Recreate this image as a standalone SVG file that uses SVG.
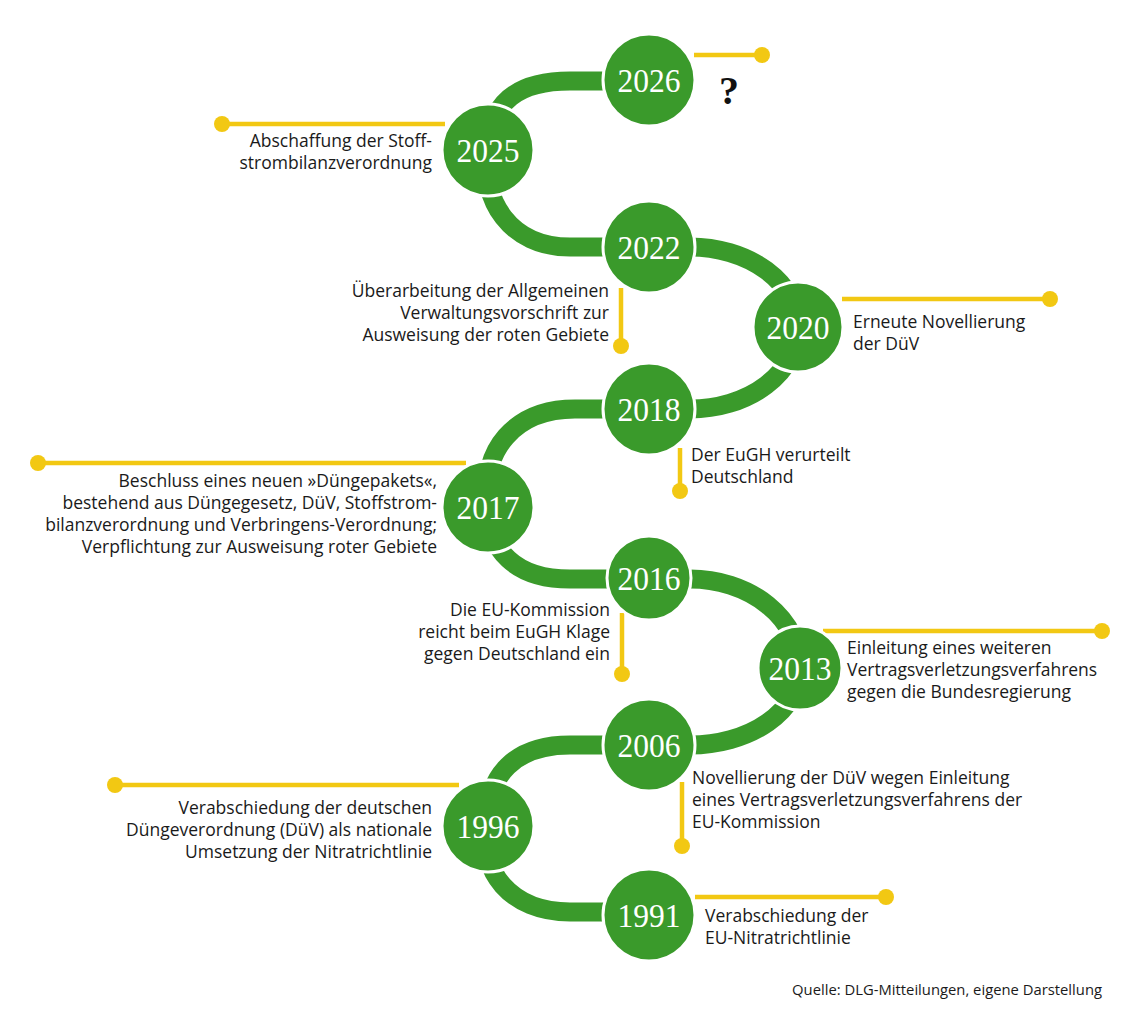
<svg xmlns="http://www.w3.org/2000/svg" width="1140" height="1027" viewBox="0 0 1140 1027">
<defs>
<style>
.track{fill:none;stroke:#3a9a2b;stroke-width:19}
.yl{stroke:#f2c813;stroke-width:4.5;fill:none}
.dot{fill:#f2c813}
.node{fill:#3a9a2b;stroke:#fff;stroke-width:3}
.year{font-family:"Liberation Serif",serif;font-size:34px;fill:#fff;text-anchor:middle}
.lbl{font-family:"Open Sans","Liberation Sans",sans-serif;font-size:17.5px;fill:#1a1a1a}
.r{text-anchor:end}
.q{font-family:"Liberation Serif",serif;font-size:40px;font-weight:bold;fill:#111}
.src{font-family:"Open Sans","Liberation Sans",sans-serif;font-size:14.8px;fill:#1a1a1a;text-anchor:end}
</style>
</defs>
<rect width="1140" height="1027" fill="#fff"/>
<g id="connectors">
<path class="track" d="M649 81 L570 81 C520 81 490 100 488 150 C480 200 510 247 570 247 L690 247 A108 80 0 0 1 798 327 A108 82 0 0 1 690 409 L575 409 C515 409 480 450 488 507 C488 550 515 579 570 579 L690 579 A110 89 0 0 1 800 668 A110 77 0 0 1 690 745 L570 745 C515 745 486 775 488 825 C478 870 510 912 570 912 L649 912"/>
<g id="leaders">
<line class="yl" x1="694" y1="55" x2="762" y2="55"/><circle class="dot" cx="762" cy="55" r="8"/>
<line class="yl" x1="222" y1="124" x2="445" y2="124"/><circle class="dot" cx="222" cy="124" r="8"/>
<line class="yl" x1="621" y1="288" x2="621" y2="346"/><circle class="dot" cx="621" cy="346" r="8"/>
<line class="yl" x1="842" y1="299" x2="1050" y2="299"/><circle class="dot" cx="1050" cy="299" r="8"/>
<line class="yl" x1="680" y1="448" x2="680" y2="491"/><circle class="dot" cx="680" cy="491" r="8"/>
<line class="yl" x1="38" y1="463" x2="466" y2="463"/><circle class="dot" cx="38" cy="463" r="8"/>
<line class="yl" x1="622" y1="613" x2="622" y2="674"/><circle class="dot" cx="622" cy="674" r="8"/>
<line class="yl" x1="823" y1="631" x2="1102" y2="631"/><circle class="dot" cx="1102" cy="631" r="8"/>
<line class="yl" x1="682" y1="782" x2="682" y2="846"/><circle class="dot" cx="682" cy="846" r="8"/>
<line class="yl" x1="115" y1="785" x2="459" y2="785"/><circle class="dot" cx="115" cy="785" r="8"/>
<line class="yl" x1="695" y1="897" x2="886" y2="897"/><circle class="dot" cx="886" cy="897" r="8"/>
</g>
</g>
<g id="n2026"><circle class="node" cx="649" cy="80" r="46"/><text class="year" x="649" y="92" textLength="63" lengthAdjust="spacingAndGlyphs">2026</text><text class="q" x="719" y="104">?</text></g>
<g id="n2025"><circle class="node" cx="488" cy="150" r="46"/><text class="year" x="488" y="162" textLength="63" lengthAdjust="spacingAndGlyphs">2025</text>
<text class="lbl r" x="432" y="147">Abschaffung der Stoff-</text><text class="lbl r" x="432" y="169">strombilanzverordnung</text></g>
<g id="n2022"><circle class="node" cx="649" cy="247" r="46"/><text class="year" x="649" y="259" textLength="63" lengthAdjust="spacingAndGlyphs">2022</text>
<text class="lbl r" x="609" y="297">Überarbeitung der Allgemeinen</text><text class="lbl r" x="609" y="319">Verwaltungsvorschrift zur</text><text class="lbl r" x="609" y="341">Ausweisung der roten Gebiete</text></g>
<g id="n2020"><circle class="node" cx="798" cy="327" r="45"/><text class="year" x="798" y="339" textLength="63" lengthAdjust="spacingAndGlyphs">2020</text>
<text class="lbl" x="853" y="328">Erneute Novellierung</text><text class="lbl" x="853" y="350">der DüV</text></g>
<g id="n2018"><circle class="node" cx="649" cy="409" r="46"/><text class="year" x="649" y="421" textLength="63" lengthAdjust="spacingAndGlyphs">2018</text>
<text class="lbl" x="691" y="461">Der EuGH verurteilt</text><text class="lbl" x="691" y="483">Deutschland</text></g>
<g id="n2017"><circle class="node" cx="488" cy="507" r="46"/><text class="year" x="488" y="519" textLength="63" lengthAdjust="spacingAndGlyphs">2017</text>
<text class="lbl r" x="437" y="487">Beschluss eines neuen »Düngepakets«,</text><text class="lbl r" x="437" y="509">bestehend aus Düngegesetz, DüV, Stoffstrom-</text><text class="lbl r" x="437" y="531">bilanzverordnung und Verbringens-Verordnung;</text><text class="lbl r" x="437" y="553">Verpflichtung zur Ausweisung roter Gebiete</text></g>
<g id="n2016"><circle class="node" cx="649" cy="578" r="42"/><text class="year" x="649" y="590" textLength="63" lengthAdjust="spacingAndGlyphs">2016</text>
<text class="lbl r" x="610" y="616">Die EU-Kommission</text><text class="lbl r" x="610" y="638">reicht beim EuGH Klage</text><text class="lbl r" x="610" y="660">gegen Deutschland ein</text></g>
<g id="n2013"><circle class="node" cx="800" cy="668" r="42"/><text class="year" x="800" y="680" textLength="63" lengthAdjust="spacingAndGlyphs">2013</text>
<text class="lbl" x="847" y="654">Einleitung eines weiteren</text><text class="lbl" x="847" y="676">Vertragsverletzungsverfahrens</text><text class="lbl" x="847" y="698">gegen die Bundesregierung</text></g>
<g id="n2006"><circle class="node" cx="649" cy="745" r="46"/><text class="year" x="649" y="757" textLength="63" lengthAdjust="spacingAndGlyphs">2006</text>
<text class="lbl" x="692" y="784">Novellierung der DüV wegen Einleitung</text><text class="lbl" x="692" y="806">eines Vertragsverletzungsverfahrens der</text><text class="lbl" x="692" y="828">EU-Kommission</text></g>
<g id="n1996"><circle class="node" cx="488" cy="826" r="46"/><text class="year" x="488" y="838" textLength="63" lengthAdjust="spacingAndGlyphs">1996</text>
<text class="lbl r" x="432" y="814">Verabschiedung der deutschen</text><text class="lbl r" x="432" y="836">Düngeverordnung (DüV) als nationale</text><text class="lbl r" x="432" y="858">Umsetzung der Nitratrichtlinie</text></g>
<g id="n1991"><circle class="node" cx="649" cy="915" r="46"/><text class="year" x="649" y="927" textLength="63" lengthAdjust="spacingAndGlyphs">1991</text>
<text class="lbl" x="705" y="922">Verabschiedung der</text><text class="lbl" x="705" y="944">EU-Nitratrichtlinie</text></g>
<text class="src" x="1102" y="995">Quelle: DLG-Mitteilungen, eigene Darstellung</text>
</svg>
